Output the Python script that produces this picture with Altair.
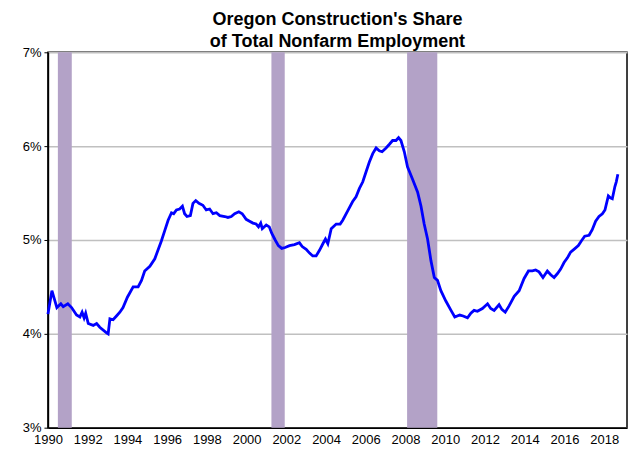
import altair as alt
import pandas as pd

years = [1990.0, 1990.2, 1990.45, 1990.65, 1990.77, 1991.0, 1991.19, 1991.44, 1991.61, 1991.72,
         1991.82, 1991.9, 1992.03, 1992.28, 1992.45, 1992.61, 1992.95, 1993.03, 1993.12, 1993.28,
         1993.45, 1993.62, 1993.78, 1994.0, 1994.29, 1994.54, 1994.71, 1994.87, 1995.13, 1995.38,
         1995.71, 1995.88, 1996.05, 1996.22, 1996.33, 1996.47, 1996.63, 1996.77, 1996.88, 1997.0,
         1997.17, 1997.3, 1997.44, 1997.6, 1997.8, 1997.97, 1998.14, 1998.31, 1998.48, 1998.65,
         1998.9, 1999.06, 1999.23, 1999.4, 1999.61, 1999.78, 1999.98, 2000.15, 2000.32, 2000.48,
         2000.6, 2000.71, 2000.79, 2000.99, 2001.14, 2001.27, 2001.44, 2001.6, 2001.77, 2001.94,
         2002.16, 2002.41, 2002.66, 2002.8, 2003.0, 2003.17, 2003.33, 2003.5, 2003.67, 2003.84,
         2003.97, 2004.09, 2004.26, 2004.51, 2004.71, 2004.84, 2005.09, 2005.34, 2005.51, 2005.68,
         2005.85, 2006.02, 2006.18, 2006.35, 2006.52, 2006.68, 2006.82, 2007.02, 2007.19, 2007.35,
         2007.52, 2007.65, 2007.77, 2007.94, 2008.1, 2008.35, 2008.61, 2008.78, 2008.94, 2009.11,
         2009.28, 2009.45, 2009.61, 2009.78, 2010.03, 2010.29, 2010.48, 2010.73, 2010.9, 2011.12,
         2011.29, 2011.45, 2011.62, 2011.87, 2012.13, 2012.29, 2012.46, 2012.71, 2012.85, 2013.02,
         2013.22, 2013.47, 2013.72, 2013.97, 2014.19, 2014.39, 2014.55, 2014.72, 2014.92, 2015.14,
         2015.31, 2015.48, 2015.64, 2015.81, 2015.98, 2016.15, 2016.31, 2016.48, 2016.7, 2016.85,
         2017.02, 2017.24, 2017.4, 2017.57, 2017.74, 2017.91, 2018.04, 2018.21, 2018.31, 2018.41,
         2018.54, 2018.61, 2018.69]
share = [4.21, 4.46, 4.28, 4.32, 4.29, 4.32, 4.28, 4.20, 4.18, 4.23,
         4.17, 4.22, 4.11, 4.09, 4.11, 4.07, 4.01, 4.00, 4.16, 4.15,
         4.19, 4.23, 4.28, 4.39, 4.50, 4.50, 4.57, 4.67, 4.72, 4.80,
         4.99, 5.10, 5.21, 5.29, 5.28, 5.32, 5.33, 5.36, 5.28, 5.25,
         5.26, 5.39, 5.42, 5.39, 5.37, 5.32, 5.33, 5.28, 5.29, 5.26,
         5.25, 5.24, 5.25, 5.28, 5.30, 5.28, 5.22, 5.20, 5.18, 5.17,
         5.14, 5.18, 5.12, 5.16, 5.14, 5.07, 5.00, 4.94, 4.91, 4.92,
         4.94, 4.95, 4.97, 4.93, 4.90, 4.86, 4.83, 4.83, 4.89, 4.96,
         5.01, 4.96, 5.12, 5.17, 5.17, 5.21, 5.31, 5.41, 5.46, 5.55,
         5.62, 5.73, 5.83, 5.92, 5.98, 5.95, 5.94, 5.98, 6.02, 6.06,
         6.06, 6.09, 6.06, 5.94, 5.78, 5.65, 5.51, 5.36, 5.17, 5.01,
         4.78, 4.60, 4.57, 4.46, 4.35, 4.25, 4.18, 4.20, 4.19, 4.17,
         4.22, 4.25, 4.24, 4.27, 4.32, 4.27, 4.25, 4.31, 4.26, 4.23,
         4.30, 4.40, 4.46, 4.59, 4.67, 4.67, 4.68, 4.66, 4.60, 4.67,
         4.63, 4.60, 4.64, 4.69, 4.76, 4.81, 4.87, 4.90, 4.94, 4.99,
         5.04, 5.05, 5.11, 5.20, 5.25, 5.28, 5.32, 5.47, 5.45, 5.44,
         5.57, 5.62, 5.70]

rec_start = [1990.5, 2001.25, 2008.08]
rec_end = [1991.2, 2001.92, 2009.6]

x_ticks = list(range(1990, 2019, 2))
y_ticks = [3, 4, 5, 6, 7]

df = pd.DataFrame({"year": years, "share": [s / 100 for s in share]})
rec = pd.DataFrame({"start": rec_start, "end": rec_end})

xscale = alt.Scale(domain=[1990, 2019.15], nice=False, zero=False)
yscale = alt.Scale(domain=[0.03, 0.07], nice=False, zero=False)

bars = alt.Chart(rec).mark_rect(color="#b3a2c7", opacity=1).encode(
    x=alt.X("start:Q", scale=xscale,
            axis=alt.Axis(values=x_ticks, format="d", title=None, ticks=False,
                          labelFontSize=13, labelColor="black", labelPadding=6,
                          labelOverlap=False, labelFlush=False,
                          domainColor="black", domainWidth=1.5, grid=False,
                          labelFont="Liberation Sans")),
    x2="end:Q",
)

line = alt.Chart(df).mark_line(color="#0000ff", strokeWidth=2.8).encode(
    x=alt.X("year:Q", scale=xscale),
    y=alt.Y("share:Q", scale=yscale,
            axis=alt.Axis(values=[v / 100 for v in y_ticks], format=".0%", title=None,
                          tickSize=4, tickColor="black", labelFontSize=13,
                          labelColor="black", labelPadding=3, domainColor="black",
                          domainWidth=1.5, gridColor="#c0c0c0", gridWidth=1.5,
                          labelFlush=False, minExtent=33, labelFont="Liberation Sans")),
)

chart = alt.layer(bars, line).properties(
    width=580,
    height=376,
    title=alt.TitleParams(
        text=["Oregon Construction's Share", "of Total Nonfarm Employment"],
        font="Liberation Sans", fontSize=18, fontWeight="bold", color="black",
        anchor="middle", lineHeight=22, offset=-5,
    ),
    padding={"left": 7, "top": 3, "right": 5, "bottom": 5},
).configure_view(stroke="black", strokeWidth=1.5)

chart.save("out.html", embed_options={"renderer": "svg", "actions": False})
